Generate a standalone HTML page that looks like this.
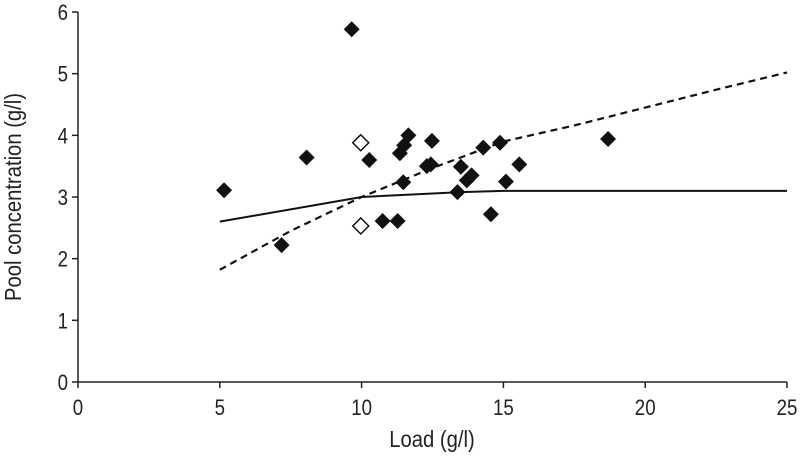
<!DOCTYPE html>
<html><head><meta charset="utf-8"><style>
html,body{margin:0;padding:0;background:#fff;width:800px;height:458px;overflow:hidden}
text{font-family:"Liberation Sans",Arial,sans-serif;fill:#222}
</style></head><body>
<svg id="chart" width="800" height="458" viewBox="0 0 800 458"></svg>
<script>
const xTicks=[0,5,10,15,20,25];
const yTicks=[0,1,2,3,4,5,6];
const filledX=[9.65,5.15,8.06,7.18,10.27,10.74,11.27,11.65,11.5,11.35,11.47,12.48,12.3,12.44,13.38,13.5,13.71,13.88,14.29,14.88,14.56,15.56,15.09,18.69];
const filledY=[5.72,3.11,3.64,2.22,3.6,2.61,2.61,4.0,3.84,3.71,3.24,3.91,3.5,3.53,3.08,3.49,3.27,3.35,3.80,3.88,2.72,3.53,3.25,3.94];
const openX=[9.97,9.97];
const openY=[3.88,2.53];
const solidX=[5,10,13.5,15,25];
const solidY=[2.6,3.0,3.08,3.1,3.1];
const dashX=[5,7.5,10,12.5,15,17.5,20,22.5,25];
const dashY=[1.82,2.45,3.0,3.47,3.9,4.16,4.45,4.74,5.02];

const svg=document.getElementById('chart');
const NS='http://www.w3.org/2000/svg';
const X0=78,X1=787,Y0=382,Y1=12;
const sx=v=>X0+(X1-X0)*v/25;
const sy=v=>Y0-(Y0-Y1)*v/6;
function mk(t,a,p){const e=document.createElementNS(NS,t);for(const k in a)e.setAttribute(k,a[k]);(p||svg).appendChild(e);return e;}

const axes=mk('g',{});


const xa=mk('line',{x1:X0,y1:Y0,x2:X1,y2:Y0,stroke:'#222','stroke-width':1.5},axes);


const ya=mk('line',{x1:X0,y1:Y0,x2:X0,y2:Y1,stroke:'#222','stroke-width':1.5},axes);


xTicks.forEach(v=>{
  mk('line',{x1:sx(v),y1:Y0,x2:sx(v),y2:Y0+6,stroke:'#222','stroke-width':1.5},axes);
  const t=mk('text',{x:sx(v),y:Y0+33,'text-anchor':'middle','font-size':22,transform:`translate(${sx(v)},0) scale(0.85,1) translate(${-sx(v)},0)`},axes);
  t.textContent=v;
  
  
});
yTicks.forEach(v=>{
  mk('line',{x1:X0-6,y1:sy(v),x2:X0,y2:sy(v),stroke:'#222','stroke-width':1.5},axes);
  const t=mk('text',{x:X0-10,y:sy(v)+8,'text-anchor':'end','font-size':22,transform:`translate(${X0-10},0) scale(0.85,1) translate(${-(X0-10)},0)`},axes);
  t.textContent=v;
  
  
});
const xt=mk('text',{x:432,y:447,'text-anchor':'middle','font-size':23,transform:'translate(432,0) scale(0.88,1) translate(-432,0)'});
xt.textContent='Load (g/l)';


const yt=mk('text',{x:0,y:0,'text-anchor':'middle','font-size':23,transform:'translate(21,197) rotate(-90) scale(0.88,1)'});
yt.textContent='Pool concentration (g/l)';



const sl=mk('polyline',{points:solidX.map((v,i)=>sx(v)+','+sy(solidY[i])).join(' '),fill:'none',stroke:'#111','stroke-width':2});


const dl=mk('polyline',{points:dashX.map((v,i)=>sx(v)+','+sy(dashY[i])).join(' '),fill:'none',stroke:'#111','stroke-width':2.2,'stroke-dasharray':'7,5','stroke-linejoin':'round'});



const r=8;
function diamond(x,y){return `${x},${y-r} ${x+r},${y} ${x},${y+r} ${x-r},${y}`;}
filledX.forEach((v,i)=>{
  const p=mk('polygon',{points:diamond(sx(v),sy(filledY[i])),fill:'#111'});
  
  
});
openX.forEach((v,i)=>{
  const p=mk('polygon',{points:diamond(sx(v),sy(openY[i])),fill:'#fff',stroke:'#111','stroke-width':1.5});
  
  
});
</script>
</body></html>
